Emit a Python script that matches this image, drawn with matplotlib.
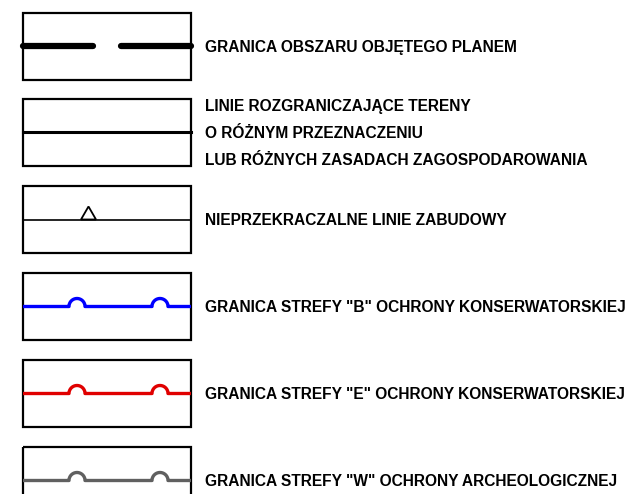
import numpy as np
import matplotlib
matplotlib.use("Agg")
import matplotlib.pyplot as plt
from matplotlib.patches import Rectangle, Polygon

W, H = 638, 494

labels = [
    "GRANICA OBSZARU OBJĘTEGO PLANEM",
    "LINIE ROZGRANICZAJĄCE TERENY\nO RÓŻNYM PRZEZNACZENIU\nLUB RÓŻNYCH ZASADACH ZAGOSPODAROWANIA",
    "NIEPRZEKRACZALNE LINIE ZABUDOWY",
    'GRANICA STREFY "B" OCHRONY KONSERWATORSKIEJ',
    'GRANICA STREFY "E" OCHRONY KONSERWATORSKIEJ',
    'GRANICA STREFY "W" OCHRONY ARCHEOLOGICZNEJ',
]
styles = ["dash", "solid", "triangle", "bump", "bump", "bump"]
colors = ["black", "black", "black", "#0000ff", "#e00000", "#606060"]
box_tops = [13, 99, 186, 273, 360, 447]

fig = plt.figure(figsize=(W / 100, H / 100), dpi=100)
ax = fig.add_axes([0, 0, 1, 1])
ax.set_xlim(0, W)
ax.set_ylim(H, 0)
ax.axis("off")

x0, x1 = 23, 191
bh = 67

def bump_line(y, color):
    xs = [x0]
    ys = [y]
    r = 8
    for cx in (77, 160):
        xs.append(cx - r)
        ys.append(y)
        t = np.linspace(np.pi, 0, 30)
        xs.extend(cx + r * np.cos(t))
        ys.extend(y - r * np.sin(t))
    xs.append(x1)
    ys.append(y)
    ax.plot(xs, ys, color=color, lw=2.4, solid_capstyle="butt",
            solid_joinstyle="round", zorder=3)

for i, (lab, st, col, top) in enumerate(zip(labels, styles, colors, box_tops)):
    ax.add_patch(Rectangle((x0, top), x1 - x0, bh, fill=False, ec="black", lw=1.6, zorder=2))
    y = top + bh / 2
    if st == "dash":
        ax.plot([x0, 93], [y, y], color=col, lw=4.5, solid_capstyle="round", zorder=3)
        ax.plot([121, x1], [y, y], color=col, lw=4.5, solid_capstyle="round", zorder=3)
    elif st == "solid":
        ax.plot([x0, x1], [y, y], color=col, lw=2.2, zorder=3)
    elif st == "triangle":
        ax.plot([x0, x1], [y, y], color=col, lw=1.2, zorder=3)
        ax.add_patch(Polygon([[81, y], [88.5, y - 13], [96, y]], closed=True,
                             fill=False, ec="black", lw=1.3, zorder=3))
    else:
        bump_line(y, col)
    ax.text(205, y + 1, lab, ha="left", va="center", fontsize=11.2,
            fontweight="bold", linespacing=2.0,
            family=["Liberation Sans", "DejaVu Sans"])

fig.savefig("out.png", dpi=100)
